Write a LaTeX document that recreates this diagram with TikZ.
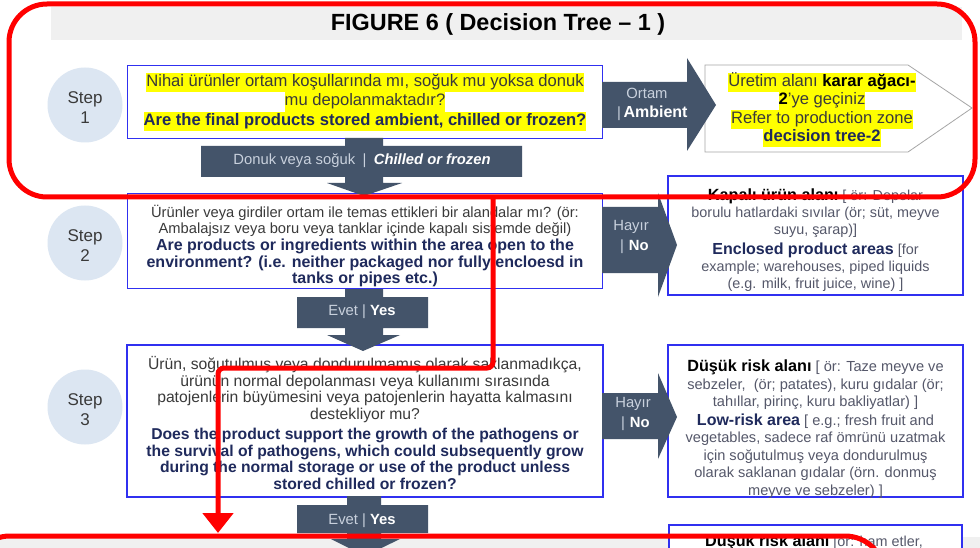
\documentclass[tikz,border=0pt]{standalone}
\usepackage{fontspec}
\setmainfont{Liberation Sans}
\usetikzlibrary{arrows.meta,positioning,calc}
\definecolor{boxblue}{HTML}{3030F0}
\definecolor{arrowslate}{HTML}{44546A}
\definecolor{stepfill}{HTML}{DCE6F2}
\definecolor{trgray}{HTML}{3A3A3A}
\definecolor{atgray}{HTML}{55586A}
\definecolor{ennavy}{HTML}{1F2A5C}
\definecolor{hlyellow}{HTML}{FFFF00}
\definecolor{labgray}{HTML}{C9D1DD}
\definecolor{notered}{HTML}{FF0000}
\definecolor{titlebar}{HTML}{F0F0F0}
\definecolor{pentgray}{HTML}{A6A6A6}
\newcommand\hlt[1]{{\setlength{\fboxsep}{0pt}\colorbox{hlyellow}{\strut #1}}}
\newcommand\en[1]{{\bfseries\color{ennavy}#1}}
\newcommand\enL[1]{{\bfseries\color{ennavy}\fontsize{16}{16.6}\selectfont #1}}
\newcommand\trb[1]{{\bfseries\color{black}#1}}
\newcommand\trbL[1]{{\bfseries\color{black}\fontsize{16.2}{16.6}\selectfont #1}}

\begin{document}
\begin{tikzpicture}[x=1pt, y=-1pt,
  stepno/.style={circle, fill=stepfill, minimum size=75pt, inner sep=0pt, align=center,
                 text=trgray, font=\fontsize{17}{20}\selectfont},
  qbox/.style={draw=boxblue, line width=1.2pt, fill=white, inner sep=0pt},
  qtext/.style={align=center, text=trgray, inner sep=0pt, font=\fontsize{14.7}{16.6}\selectfont},
  atext/.style={align=center, text=atgray, inner sep=0pt, font=\fontsize{14.4}{17}\selectfont},
  blk/.style={fill=arrowslate},
  lab/.style={text=labgray, inner sep=0pt, font=\fontsize{14.8}{17}\selectfont},
  note/.style={draw=notered, line width=5pt}
]
\useasboundingbox (0,0) rectangle (980,548);
\clip (0,0) rectangle (980,548);
\fill[white] (0,0) rectangle (980,548);

\fill[titlebar] (51,7) rectangle (962,40);
\node[font=\bfseries\fontsize{23.4}{27}\selectfont] (title) at (498,24) {FIGURE 6 ( Decision Tree -- 1 )};
\fill[titlebar] (0,537) rectangle (980,548);

\node[stepno] (st1) at (85,105) {};
\node[stepno, fill=none] (st1t) at (85,108) {Step\\1};
\node[stepno] (st2) at (85,243) {};
\node[stepno, fill=none] (st2t) at (85,246) {Step\\2};
\node[stepno] (st3) at (85,407) {};
\node[stepno, fill=none] (st3t) at (85,410) {Step\\3};

\node[qbox, minimum width=475pt, minimum height=73pt] (q1) at (365,102) {};
\node[qtext, font=\fontsize{16.6}{19.5}\selectfont] (q1t) at (365,102) {%
  \hlt{Nihai ürünler ortam koşullarında mı, soğuk mu yoksa donuk}\\
  \hlt{mu depolanmaktadır?}\\
  \hlt{\en{Are the final products stored ambient, chilled or frozen?}}};

\node[qbox, minimum width=475pt, minimum height=95pt] (q2) at (365,241) {};
\node[qtext] (q2t) at (365,246) {%
  Ürünler veya girdiler ortam ile temas ettikleri bir alandalar mı? (ör:\\
  Ambalajsız veya boru veya tanklar içinde kapalı sistemde değil)\\
  \enL{Are products or ingredients within the area open to the}\\
  \enL{environment? (i.e. neither packaged nor fully encloesd in}\\
  \enL{tanks or pipes etc.)}};

\node[qbox, minimum width=476pt, minimum height=152pt] (q3) at (365,421) {};
\node[qtext, font=\fontsize{15.7}{16.7}\selectfont] (q3t) at (365,423) {%
  Ürün, soğutulmuş veya dondurulmamış olarak saklanmadıkça,\\
  ürünün normal depolanması veya kullanımı sırasında\\
  patojenlerin büyümesini veya patojenlerin hayatta kalmasını\\
  destekliyor mu?\\[3pt]
  \en{Does the product support the growth of the pathogens or}\\
  \en{the survival of pathogens, which could subsequently grow}\\
  \en{during the normal storage or use of the product unless}\\
  \en{stored chilled or frozen?}};

\draw[pentgray, line width=0.8pt, fill=white] (705,65) -- (908,65) -- (972,108) -- (908,152) -- (705,152) -- cycle;
\node[qtext, font=\fontsize{16.6}{18.5}\selectfont] (p1) at (822,110) {%
  \hlt{Üretim alanı \trb{karar ağacı-}}\\
  \hlt{\trb{2}’ye geçiniz}\\
  \hlt{Refer to production zone}\\
  \hlt{\en{decision tree-2}}};

\node[qbox, minimum width=295pt, minimum height=119pt] (r2) at (815.5,235.5) {};
\node[atext] (r2t) at (815.5,240) {%
  \trbL{Kapalı ürün alanı} [ ör: Depolar\\
  borulu hatlardaki sıvılar (ör; süt, meyve\\
  suyu, şarap)]\\[3pt]
  \enL{Enclosed product areas} [for\\
  example; warehouses, piped liquids\\
  (e.g. milk, fruit juice, wine) ]};

\node[qbox, minimum width=295pt, minimum height=152pt] (r3) at (815.5,421) {};
\node[atext, font=\fontsize{14.6}{17.5}\selectfont] (r3t) at (815.5,429) {%
  \trbL{Düşük risk alanı} [ ör: Taze meyve ve\\
  sebzeler,\ \ (ör; patates), kuru gıdalar (ör;\\
  tahıllar, pirinç, kuru bakliyatlar) ]\\[1pt]
  \enL{Low-risk area} [ e.g.; fresh fruit and\\
  vegetables, sadece raf ömrünü uzatmak\\
  için soğutulmuş veya dondurulmuş\\
  olarak saklanan gıdalar (örn. donmuş\\
  meyve ve sebzeler) ]};

\node[qbox, minimum width=293pt, minimum height=40pt] (r4) at (815.5,545) {};
\node[atext] (r4t) at (814,542) {\trbL{Düşük risk alanı} [ör: ham etler,};

\fill[blk] (345,138) -- (383,138) -- (383,146) -- (522,146) -- (522,177) -- (383,177) -- (383,183)
  -- (402,183) -- (364,196) -- (327,183) -- (345,183) -- (345,177) -- (201,177) -- (201,146) -- (345,146) -- cycle;
\node[lab] (cf) at (362,161) {Donuk veya soğuk\enspace|\enspace\textcolor{white}{\bfseries\itshape Chilled or frozen}};

\fill[blk] (345,289) -- (383,289) -- (383,297) -- (428,297) -- (428,328) -- (383,328) -- (383,335)
  -- (400,335) -- (363,351) -- (327,335) -- (345,335) -- (345,328) -- (297,328) -- (297,297) -- (345,297) -- cycle;
\node[lab] (ys2) at (362,312) {Evet | \textcolor{white}{\bfseries Yes}};

\fill[blk] (347,496) -- (381,496) -- (381,505) -- (428,505) -- (428,533) -- (381,533) -- (381,539)
  -- (400,539) -- (365,556) -- (331,539) -- (347,539) -- (347,533) -- (297,533) -- (297,505) -- (347,505) -- cycle;
\node[lab] (ys3) at (362,521) {Evet | \textcolor{white}{\bfseries Yes}};

\fill[blk] (602,82) -- (687,82) -- (687,58) -- (716,105) -- (687,151) -- (687,128) -- (602,128) -- cycle;
\node[lab] (amb1) at (647,93) {Ortam};
\node[lab, anchor=west] (amb2) at (617,113) {|\,\textcolor{white}{\bfseries\fontsize{16}{17}\selectfont Ambient}};

\fill[blk] (602,207) -- (658,207) -- (658,193) -- (677,245) -- (658,297) -- (658,273) -- (602,273) -- cycle;
\node[lab] (no2a) at (631,227) {Hayır};
\node[lab, anchor=west] (no2b) at (620,247) {|\,\,\textcolor{white}{\bfseries No}};

\fill[blk] (602,393) -- (658,393) -- (658,373) -- (677,417) -- (658,459) -- (658,439) -- (602,439) -- cycle;
\node[lab] (no3a) at (633,404) {Hayır};
\node[lab, anchor=west] (no3b) at (621,424) {|\,\,\textcolor{white}{\bfseries No}};

\draw[note, rounded corners=38pt] (9,4) rectangle (975,197);
\coordinate (mk) at (493,197);
\coordinate (mkend) at (218,533);
\draw[note, rounded corners=6pt, -{Triangle[length=20pt, width=30pt]}] (mk) |- (218,368) -- (mkend);
\draw[note, rounded corners=40pt] (-30,536) rectangle (885,640);
\end{tikzpicture}
\end{document}
